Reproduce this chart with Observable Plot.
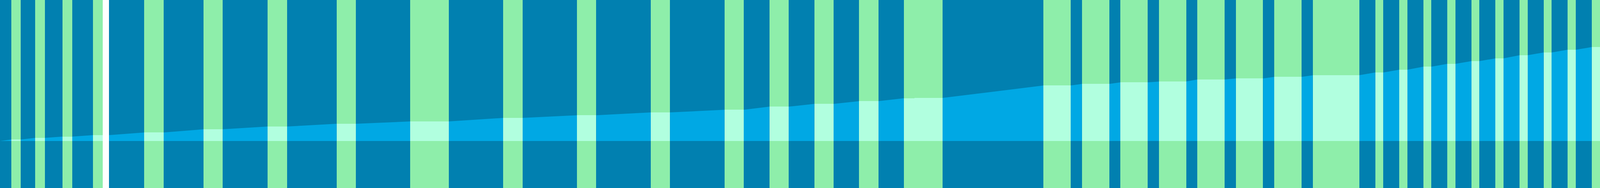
<!DOCTYPE html>
<html>
<head>
<meta charset="utf-8">
<script src="https://cdn.jsdelivr.net/npm/d3@7"></script>
<script src="https://cdn.jsdelivr.net/npm/@observablehq/plot@0.6"></script>
<style>
  html, body { margin: 0; padding: 0; background: #ffffff; overflow: hidden; }
  #chart { width: 100vw; height: 100vh; overflow: hidden; }
  #chart svg { display: block; width: 100vw !important; height: 100vh !important; max-width: none !important; }
</style>
</head>
<body>
<div id="chart"></div>
<script>
// Interval boundaries along the x axis (start of each interval, final end last)
const boundaries = [
  0, 35, 65, 110, 140, 195, 225, 290, 321, 340, 450, 510, 635, 695, 835, 895,
  1050, 1110, 1280, 1400, 1570, 1630, 1800, 1860, 2030, 2090, 2260, 2320, 2400,
  2460, 2540, 2600, 2680, 2740, 2820, 2940, 3255, 3340, 3375, 3460, 3495, 3580,
  3615, 3700, 3735, 3820, 3855, 3940, 3975, 4060, 4095, 4240, 4290, 4315, 4365,
  4390, 4440, 4465, 4515, 4540, 4590, 4615, 4665, 4690, 4740, 4765, 4815, 4840,
  4890, 4915, 4965, 4991
];
// Kind of each interval: "active" (rising), "idle" (flat), "gap" (no data)
const kinds = [
  "active", "idle", "active", "idle", "active", "idle", "active", "idle", "gap",
  "active", "idle", "active", "idle", "active", "idle", "active", "idle",
  "active", "idle", "active", "idle", "active", "idle", "active", "idle",
  "active", "idle", "active", "idle", "active", "idle", "active", "idle",
  "active", "idle", "active", "idle", "active", "idle", "active", "idle",
  "active", "idle", "active", "idle", "active", "idle", "active", "idle",
  "active", "idle", "active", "idle", "active", "idle", "active", "idle",
  "active", "idle", "active", "idle", "active", "idle", "active", "idle",
  "active", "idle", "active", "idle", "active", "idle"
];
// Cumulative level at each boundary
const levels = [
  0, 3.7, 3.7, 8, 8, 11.3, 11.3, 15, 15, 15, 21.7, 21.7, 30, 30, 37, 37,
  44, 44, 50, 50, 59, 59, 65.7, 65.7, 73, 73, 79.7, 79.7, 87.7, 87.7, 94.7,
  94.7, 101.7, 101.7, 109.3, 110, 141.7, 141.7, 145.7, 145.7, 149.7, 149.7,
  151.7, 152, 157, 157, 159.7, 159.7, 163.7, 163.7, 167.7, 168, 175, 175,
  182, 182, 189.7, 189.7, 197, 197, 204, 204, 211, 211, 219, 219, 226, 226,
  233, 233, 239.7, 239.7
];

const colors = {
  active: "#0180B0",
  idle: "#8EEEAA",
  gap: "#FFFFFF",
  areaActive: "#00A8E4",
  areaIdle: "#B1FFDF"
};

const intervals = kinds.map((k, i) => ({
  i, kind: k, start: boundaries[i], end: boundaries[i + 1],
  y0: levels[i], y1: levels[i + 1]
}));

const areaPoints = intervals
  .filter(d => d.kind !== "gap")
  .flatMap(d => [
    {seg: d.i, kind: d.kind, x: d.start, y: d.y0},
    {seg: d.i, kind: d.kind, x: d.end, y: d.y1}
  ]);

const chart = Plot.plot({
  width: 4991,
  height: 480,
  margin: 0,
  x: {domain: [0, 4991], axis: null},
  y: {domain: [-120, 360], axis: null},
  marks: [
    Plot.rect(intervals.filter(d => d.kind !== "gap"), {
      x1: "start", x2: "end",
      fill: d => colors[d.kind],
      shapeRendering: "crispEdges"
    }),
    Plot.areaY(areaPoints.filter(d => d.kind === "active"), {
      x: "x", y: "y", z: "seg",
      fill: colors.areaActive
    }),
    Plot.areaY(areaPoints.filter(d => d.kind === "idle"), {
      x: "x", y: "y", z: "seg",
      fill: colors.areaIdle,
      shapeRendering: "crispEdges"
    }),
    Plot.rect(intervals.filter(d => d.kind === "gap"), {
      x1: "start", x2: "end",
      fill: colors.gap,
      shapeRendering: "crispEdges"
    })
  ]
});

chart.setAttribute("preserveAspectRatio", "none");
document.getElementById("chart").appendChild(chart);
</script>
</body>
</html>
